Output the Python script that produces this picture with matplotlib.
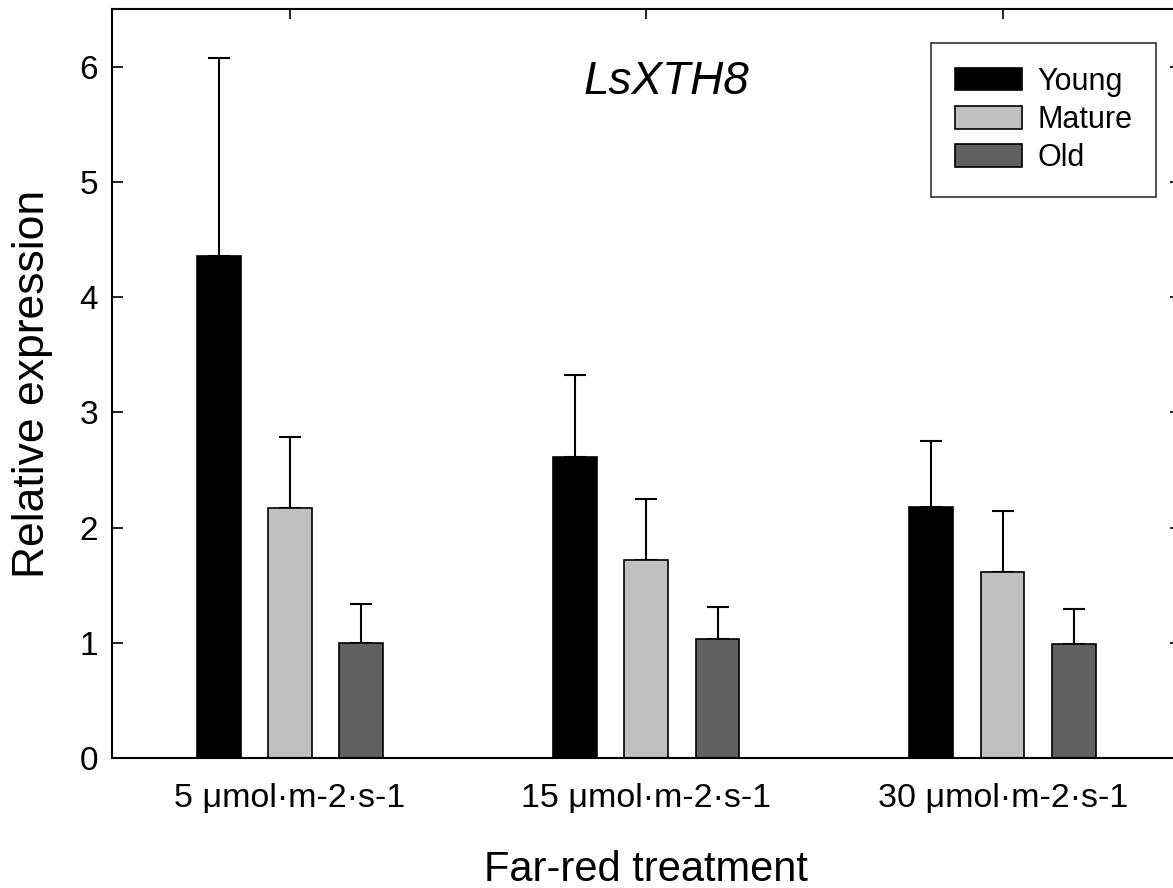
import matplotlib
matplotlib.use("Agg")
import matplotlib.pyplot as plt
import numpy as np

plt.rcParams["font.family"] = ["Liberation Sans", "DejaVu Sans"]

treatments = ["5 μmol·m-2·s-1", "15 μmol·m-2·s-1", "30 μmol·m-2·s-1"]
leaf_ages = ["Young", "Mature", "Old"]

# mean relative expression and upper error per leaf age
young = [4.36, 2.61, 2.18]
young_err = [1.72, 0.71, 0.57]
mature = [2.17, 1.72, 1.61]
mature_err = [0.62, 0.53, 0.53]
old = [1.00, 1.03, 0.99]
old_err = [0.34, 0.28, 0.30]

colors = ["#000000", "#c0c0c0", "#606060"]

fig = plt.figure(figsize=(11.73, 8.88), dpi=100)
ax = fig.add_axes([0.0953, 0.1465, 0.9113, 0.8432])

x = np.arange(len(treatments))
width = 0.123
offset = 0.2

series = [(young, young_err), (mature, mature_err), (old, old_err)]
for i, ((vals, errs), name, c) in enumerate(zip(series, leaf_ages, colors)):
    pos = x + (i - 1) * offset
    ax.bar(pos, vals, width, color=c, edgecolor="black", linewidth=1.2,
           label=name, zorder=2)
    ax.errorbar(pos, vals, yerr=[np.zeros(len(errs)), errs], fmt="none",
                ecolor="black", elinewidth=1.5, capsize=7.6, capthick=1.5,
                zorder=1)

ax.set_xlim(-0.5, 2.5)
ax.set_ylim(0, 6.5)
ax.set_yticks(range(7))
ax.set_xticks(x)
ax.set_xticklabels(treatments)

for s in ax.spines.values():
    s.set_linewidth(1.5)

ax.tick_params(axis="y", direction="in", length=8, width=1.2, right=True,
               labelsize=24, pad=10)
ax.tick_params(axis="x", direction="in", length=7, width=1.2, top=True,
               bottom=False, labelbottom=True, labelsize=24.5, pad=18)

ax.set_ylabel("Relative expression", fontsize=32, labelpad=19)
ax.set_xlabel("Far-red treatment", fontsize=30, labelpad=26)

ax.text(0.519, 0.903, "LsXTH8", transform=ax.transAxes, fontsize=33,
        style="italic", ha="center", va="center")

leg = ax.legend(loc="upper left", bbox_to_anchor=(931 / 1173, 1 - 43 / 888),
                bbox_transform=fig.transFigure, fontsize=22, frameon=True,
                fancybox=False, handlelength=2.2, handleheight=0.75,
                labelspacing=0.27, handletextpad=0.5, borderpad=0.78,
                borderaxespad=0)
leg.get_frame().set_edgecolor("black")
leg.get_frame().set_linewidth(1.2)

fig.savefig("out.png", dpi=100)
